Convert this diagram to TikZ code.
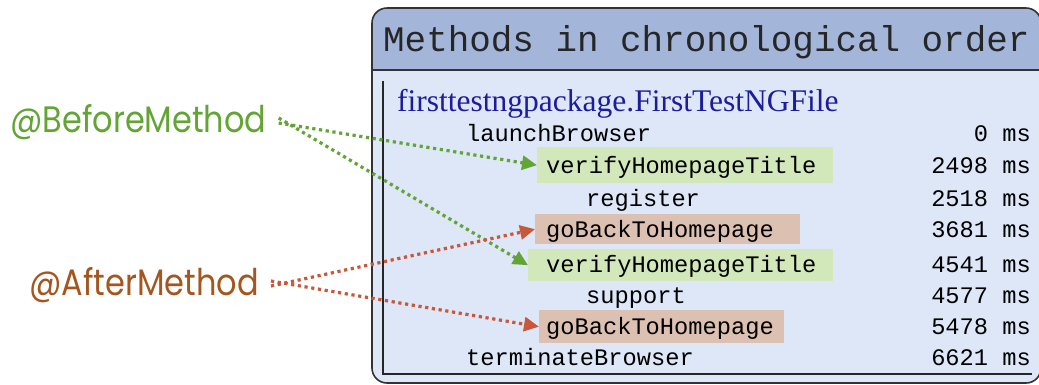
\documentclass[tikz,border=0pt]{standalone}
\usepackage{fontspec}
\usetikzlibrary{arrows.meta}
\newfontfamily\monofont{Liberation Mono}
\newfontfamily\seriffont{Liberation Serif}
\newfontfamily\handfont{Poppins}
\definecolor{headblue}{HTML}{A3B6DA}
\definecolor{bodyblue}{HTML}{DDE7F8}
\definecolor{hlgreen}{HTML}{D3E8BA}
\definecolor{hlred}{HTML}{DCC0B2}
\definecolor{beforegreen}{HTML}{62A534}
\definecolor{aftertext}{HTML}{A4561E}
\definecolor{afterred}{HTML}{C8583A}
\definecolor{pkgblue}{HTML}{1C1C9C}

\begin{document}
\begin{tikzpicture}[x=1pt,y=-1pt,
  method/.style={anchor=base west,inner sep=0pt,font=\monofont\fontsize{23.7}{26}\selectfont},
  time/.style={anchor=base east,inner sep=0pt,font=\monofont\fontsize{23.7}{26}\selectfont},
  hlbox/.style={fill=#1,anchor=north west,inner sep=0pt},
  hand/.style={anchor=west,inner sep=0pt,font=\handfont\fontsize{32}{36}\selectfont},
  dotarrow/.style={draw=#1,line width=3.2,dash pattern=on 3.2pt off 3.6pt,
    -{Triangle[length=15pt,width=14pt,fill=#1]}}]
  \useasboundingbox (0,0) rectangle (1039,384);

  % box with header
  \fill[bodyblue,rounded corners=15] (372,8) rectangle (1041,383);
  \begin{scope}
    \clip[rounded corners=15] (372,8) rectangle (1041,383);
    \fill[headblue] (372,8) rectangle (1041,70);
  \end{scope}
  \draw[line width=1.6,black!80,rounded corners=15] (372,8) rectangle (1041,383);
  \draw[line width=1.2,black!80] (372,70) -- (1041,70);
  \draw[line width=1.4,black!85] (383,81) |- (1032,374);
  \node[anchor=base west,inner sep=0pt,font=\monofont\fontsize{35.9}{40}\selectfont,text=black!85]
    (title) at (383,51) {Methods in chronological order};
  \node[anchor=base west,inner sep=0pt,font=\seriffont\fontsize{31.5}{34}\selectfont,text=pkgblue]
    (pkg) at (397,111) {firsttestngpackage.FirstTestNGFile};

  % highlights
  \node[hlbox=hlgreen,minimum width=296pt,minimum height=36pt] (v1) at (537,147) {};
  \node[hlbox=hlred,minimum width=265pt,minimum height=30pt] (gb1) at (535,214) {};
  \node[hlbox=hlgreen,minimum width=305pt,minimum height=32pt] (v2) at (528,249) {};
  \node[hlbox=hlred,minimum width=245pt,minimum height=33pt] (gb2) at (539,310) {};

  % methods and times
  \node[method] (m1) at (466,141) {launchBrowser};
  \node[method] (m2) at (546,173) {verifyHomepageTitle};
  \node[method] (m3) at (586,206) {register};
  \node[method] (m4) at (546,237) {goBackToHomepage};
  \node[method] (m5) at (546,272) {verifyHomepageTitle};
  \node[method] (m6) at (586,303) {support};
  \node[method] (m7) at (546,334) {goBackToHomepage};
  \node[method] (m8) at (466,365) {terminateBrowser};
  \node[time] (t1) at (1031,141) {0 ms};
  \node[time] (t2) at (1031,173) {2498 ms};
  \node[time] (t3) at (1031,206) {2518 ms};
  \node[time] (t4) at (1031,237) {3681 ms};
  \node[time] (t5) at (1031,272) {4541 ms};
  \node[time] (t6) at (1031,303) {4577 ms};
  \node[time] (t7) at (1031,334) {5478 ms};
  \node[time] (t8) at (1031,365) {6621 ms};

  % annotations
  \node[hand,text=beforegreen] (before) at (10,122) {\scalebox{1}[1.15]{@BeforeMethod}};
  \node[hand,text=aftertext] (after) at (29,285) {\scalebox{1}[1.15]{@AfterMethod}};
  \draw[dotarrow=beforegreen] ([xshift=12pt,yshift=-1pt]before.east) -- (v1.west);
  \draw[dotarrow=beforegreen] ([xshift=12pt,yshift=4pt]before.east) -- (v2.west);
  \draw[dotarrow=afterred] ([xshift=12pt,yshift=-1pt]after.east) -- (gb1.west);
  \draw[dotarrow=afterred] ([xshift=12pt,yshift=4pt]after.east) -- (gb2.west);
\end{tikzpicture}
\end{document}
